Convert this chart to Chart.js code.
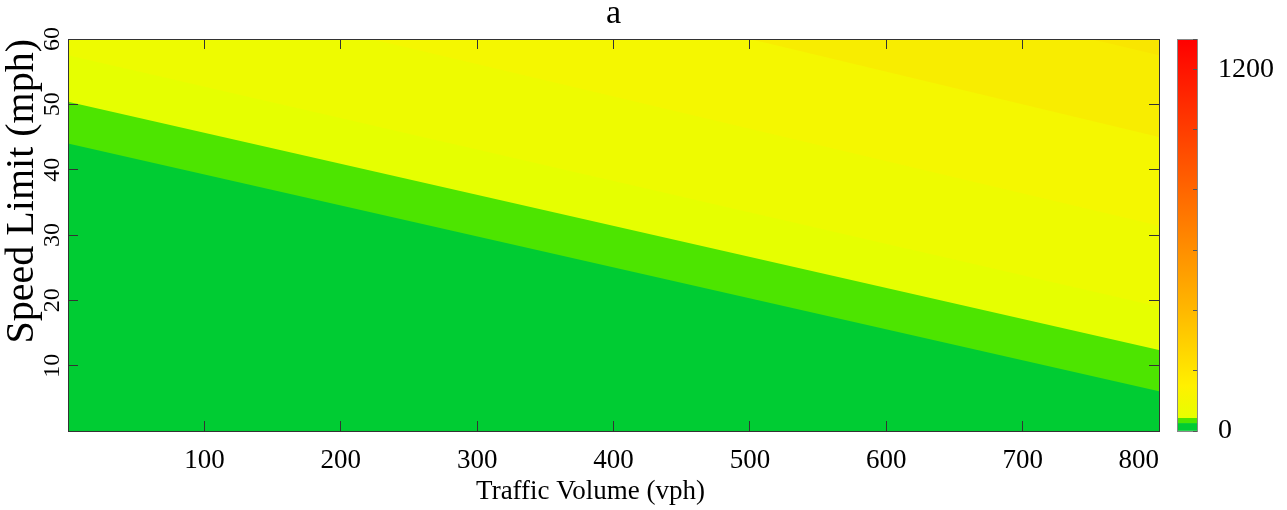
<!DOCTYPE html>
<html>
<head>
<meta charset="utf-8">
<script src="https://cdn.jsdelivr.net/npm/chart.js@4.4.1/dist/chart.umd.min.js"></script>
<style>
html, body { margin: 0; padding: 0; background: #fff; }
#wrap { position: relative; width: 1287px; height: 510px; }
#main { position: absolute; left: 0; top: 0; }
#cbar { position: absolute; left: 1170px; top: 0; }
</style>
</head>
<body>
<div id="wrap">
  <canvas id="main" width="1287" height="510"></canvas>
  <canvas id="cbar" width="117" height="510"></canvas>
</div>
<script>
// contour band edges: speed limit (mph) read at traffic volume 0 and 800 vph
var xEdge = [0, 800];
var edge1 = [44.0, 6.1];
var edge2 = [50.4, 12.4];
var edge3 = [57.5, 19.0];
var edge4 = [71.0, 31.4];
var edge5 = [85.0, 45.0];
var edge6 = [97.5, 57.5];
var yMax = 60;
var bandColors = ['#00cc33', '#4de500', '#e6ff00', '#eefb00', '#f5f700', '#f8ed00', '#f9e600'];

// colour bar
var cbBands = [[0, 25], [25, 42], [42, 1300]];
var cbBandColors = ['#00cc33', '#4de500', null];
var cbStops = [42, 150, 400, 800, 1300];
var cbStopColors = ['#e6ff00', '#fff000', '#ffb800', '#ff6600', '#ff0000'];
var cbLabels = [0, 1200];

var xTitle = 'Traffic Volume (vph)';
var yTitle = 'Speed Limit (mph)';
var mainTitle = 'a';

var serif = '"Liberation Serif", "Times New Roman", serif';
Chart.defaults.font.family = serif;
Chart.defaults.color = '#000';

function pts(ys) {
  return xEdge.map(function (x, i) { return {x: x, y: ys[i]}; });
}

var edges = [edge1, edge2, edge3, edge4, edge5, edge6, [yMax, yMax]];
var datasets = edges.map(function (e, i) {
  return {
    data: pts(e),
    fill: 'start',
    backgroundColor: bandColors[i],
    borderWidth: 0,
    pointRadius: 0,
    tension: 0
  };
});

var xTitlePlugin = {
  id: 'xTitle',
  afterDraw: function (chart) {
    var c = chart.ctx, a = chart.chartArea;
    c.save();
    c.font = '27px ' + serif;
    c.fillStyle = '#000';
    c.textAlign = 'center';
    c.textBaseline = 'alphabetic';
    c.fillText(xTitle, a.left + (a.right - a.left) * 0.479, 499);
    c.restore();
  }
};

// inward tick marks, drawn above the filled bands
var inTicks = {drawOnChartArea: false, drawTicks: true, tickLength: -10, color: '#333', z: 1};
var box = {display: true, color: '#333', width: 1, z: 1};

new Chart(document.getElementById('main'), {
  type: 'line',
  data: {datasets: datasets},
  plugins: [xTitlePlugin],
  options: {
    responsive: false,
    animation: false,
    devicePixelRatio: 1,
    layout: {padding: {left: 0, right: 128, top: 0, bottom: 0}},
    plugins: {legend: {display: false}, tooltip: {enabled: false}},
    scales: {
      x: {
        type: 'linear', position: 'bottom', min: 0, max: 800,
        grid: inTicks, border: box,
        ticks: {
          stepSize: 100, autoSkip: false, align: 'inner', padding: 26,
          font: {size: 27, lineHeight: 1},
          callback: function (v) { return v === 0 ? '' : v; }
        },
        afterFit: function (s) { s.height = 79; }
      },
      xTop: {
        type: 'linear', position: 'top', min: 0, max: 800,
        grid: inTicks, border: box,
        ticks: {stepSize: 100, display: false},
        title: {display: true, text: mainTitle, font: {size: 34, lineHeight: 1}, padding: {top: -3, bottom: 0}},
        afterFit: function (s) { s.height = 39; }
      },
      y: {
        type: 'linear', position: 'left', min: 0, max: yMax,
        grid: inTicks, border: box,
        ticks: {
          stepSize: 10, autoSkip: false, minRotation: 90, maxRotation: 90,
          crossAlign: 'center', padding: 13,
          font: {size: 24, lineHeight: 1},
          callback: function (v) { return v === 0 ? '' : v; }
        },
        title: {display: true, text: yTitle, align: 'end', font: {size: 40, lineHeight: 1}, padding: {top: 2, bottom: 0}},
        afterFit: function (s) { s.width = 68; }
      },
      yRight: {
        type: 'linear', position: 'right', min: 0, max: yMax,
        grid: inTicks, border: box,
        ticks: {stepSize: 10, display: false},
        afterFit: function (s) { s.width = 0; }
      }
    }
  }
});

// colour bar
function gradientFill(ctx) {
  var chart = ctx.chart;
  if (!chart.chartArea) return cbStopColors[0];
  var ys = chart.scales.y;
  var lo = cbStops[0], hi = cbStops[cbStops.length - 1];
  var g = chart.ctx.createLinearGradient(0, ys.getPixelForValue(lo), 0, ys.getPixelForValue(hi));
  for (var i = 0; i < cbStops.length; i++) {
    g.addColorStop((cbStops[i] - lo) / (hi - lo), cbStopColors[i]);
  }
  return g;
}

var cbBorder = {display: true, color: '#888', width: 1, z: 1};

new Chart(document.getElementById('cbar'), {
  type: 'bar',
  data: {
    labels: [''],
    datasets: cbBands.map(function (b, i) {
      return {
        data: [b],
        backgroundColor: cbBandColors[i] || gradientFill,
        borderWidth: 0,
        grouped: false,
        barPercentage: 1,
        categoryPercentage: 1
      };
    })
  },
  options: {
    responsive: false,
    animation: false,
    devicePixelRatio: 1,
    layout: {padding: {left: 7, right: 0, top: 39, bottom: 79}},
    plugins: {legend: {display: false}, tooltip: {enabled: false}},
    scales: {
      x: {
        display: true, position: 'bottom',
        grid: {display: false}, border: cbBorder, ticks: {display: false},
        afterFit: function (s) { s.height = 0; }
      },
      xTop: {
        type: 'category', labels: [''], display: true, position: 'top',
        grid: {display: false}, border: cbBorder, ticks: {display: false},
        afterFit: function (s) { s.height = 0; }
      },
      y: {
        type: 'linear', position: 'right', min: 0, max: 1300,
        grid: {drawOnChartArea: false, drawTicks: true, tickLength: -4, color: '#555', z: 1},
        border: cbBorder,
        ticks: {
          stepSize: 200, autoSkip: false, padding: 25,
          font: {size: 28, lineHeight: 1},
          callback: function (v) { return cbLabels.indexOf(v) >= 0 ? v : ''; }
        },
        afterFit: function (s) { s.width = 90; }
      },
      yLeft: {
        type: 'linear', position: 'left', min: 0, max: 1300,
        grid: {display: false}, border: cbBorder, ticks: {display: false},
        afterFit: function (s) { s.width = 0; }
      }
    }
  }
});
</script>
</body>
</html>
